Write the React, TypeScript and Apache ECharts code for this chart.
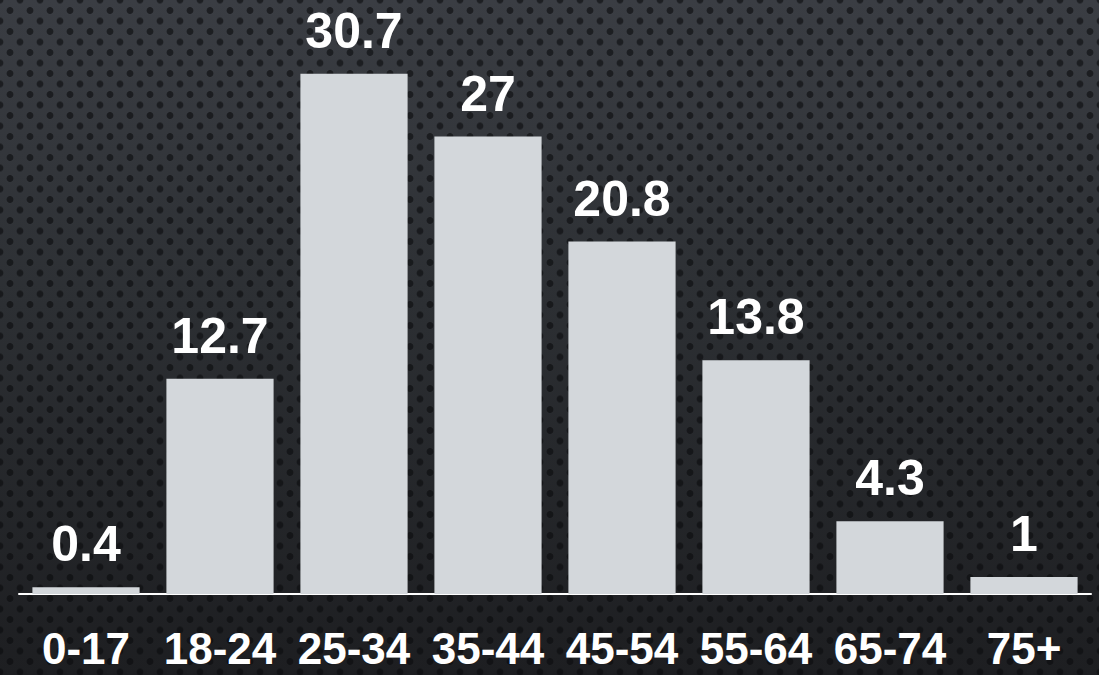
import React, { useEffect, useRef } from "react";
import * as echarts from "echarts";

const categories = ["0-17", "18-24", "25-34", "35-44", "45-54", "55-64", "65-74", "75+"];
const values = [0.4, 12.7, 30.7, 27, 20.8, 13.8, 4.3, 1];

export default function App() {
  const ref = useRef<HTMLDivElement>(null);
  useEffect(() => {
    if (!ref.current) return;
    const chart = echarts.init(ref.current, null, { renderer: "svg" });
    chart.setOption({
      animation: false,
      backgroundColor: "transparent",
      grid: { left: 19, right: 8, top: 1, bottom: 81, containLabel: false },
      xAxis: {
        type: "category",
        data: categories,
        axisLine: { show: true, lineStyle: { color: "#ffffff", width: 2 } },
        axisTick: { show: false },
        axisLabel: {
          color: "#ffffff",
          fontFamily: "Liberation Sans, Arial, sans-serif",
          fontWeight: "bold",
          fontSize: 44,
          margin: 32,
          interval: 0,
        },
      },
      yAxis: {
        type: "value",
        min: 0,
        max: 35,
        show: false,
        splitLine: { show: false },
      },
      series: [
        {
          type: "bar",
          data: values,
          barCategoryGap: "20%",
          itemStyle: { color: "#d3d7db" },
          label: {
            show: true,
            position: "top",
            distance: 18,
            color: "#ffffff",
            fontFamily: "Liberation Sans, Arial, sans-serif",
            fontWeight: "bold",
            fontSize: 50,
          },
        },
      ],
    });
    return () => chart.dispose();
  }, []);

  const bg: React.CSSProperties = {
    position: "absolute",
    left: 0,
    top: 0,
    width: 1099,
    height: 675,
    backgroundColor: "#26282c",
    backgroundImage:
      "radial-gradient(circle, rgba(10,11,13,0.6) 3px, rgba(10,11,13,0) 3.8px), radial-gradient(circle, rgba(10,11,13,0.6) 3px, rgba(10,11,13,0) 3.8px), linear-gradient(180deg, #3a3d43 0%, #2c2f33 45%, #1d1e21 100%)",
    backgroundSize: "20px 21px, 20px 21px, 100% 100%",
    backgroundPosition: "0px 0px, 10px 10.5px, 0 0",
  };

  return (
    <div style={bg}>
      <div ref={ref} style={{ width: 1099, height: 675 }} />
    </div>
  );
}
